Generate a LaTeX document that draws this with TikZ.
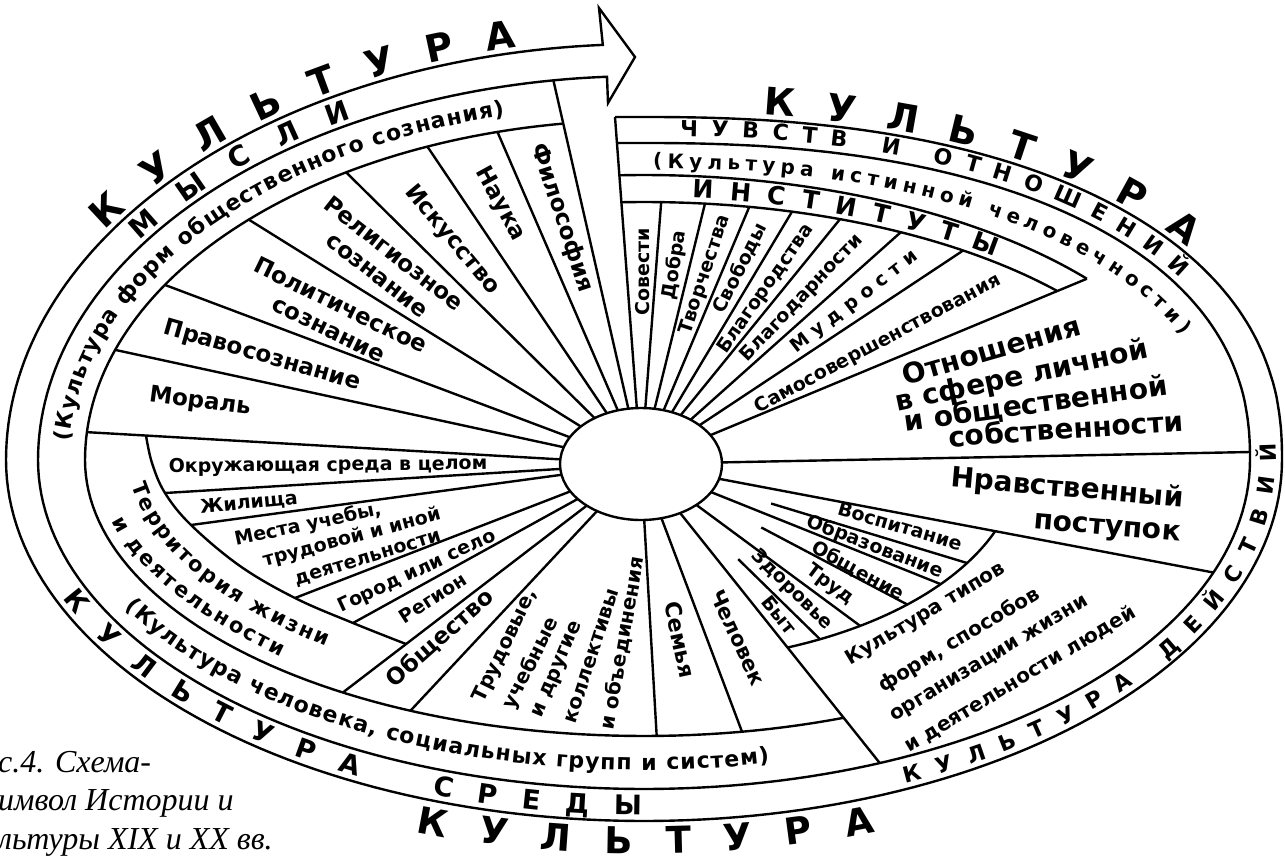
\documentclass[tikz,border=0pt]{standalone}
\usepackage{fontspec}
\setmainfont{DejaVu Sans}
\newfontfamily\capserif{Liberation Serif}
\usetikzlibrary{decorations.text,calc}
\newcommand\fsz[2]{\fontsize{#1}{#2}\selectfont\bfseries}
\begin{document}
\begin{tikzpicture}[x=1pt,y=-1pt,line width=2.4pt,line join=round,
  lab/.style={inner sep=0pt,align=center},
  curved/.style={decorate,decoration={text along path,text align=fit to path,text={#1}}}]
\fill[white] (0,0) rectangle (1285,863);
\useasboundingbox (0,0) rectangle (1285,863);

% centre of the small ellipse
\coordinate (O) at (641,464);

% ---------- outer ends of the radial lines ----------
% forms of social consciousness (upper left)
\coordinate (phr) at ({644+606*cos(98.6)},{460-384*sin(98.6)});
\coordinate (ul1) at ({644+559*cos(105.2)},{460-340*sin(105.2)});
\coordinate (ul2) at ({644+559*cos(112.8)},{460-340*sin(112.8)});
\coordinate (ul3) at ({644+559*cos(122.2)},{460-340*sin(122.2)});
\coordinate (ul4) at ({644+559*cos(135)},{460-340*sin(135)});
\coordinate (ul5) at ({644+559*cos(149)},{460-340*sin(149)});
\coordinate (ul6) at ({644+559*cos(161.1)},{460-340*sin(161.1)});
\coordinate (ul7) at ({644+559*cos(175.3)},{460-340*sin(175.3)});
% social groups (bottom)
\coordinate (lo1) at ({644+559*cos(237.4)},{460-276*sin(237.4)});
\coordinate (lo2) at ({644+559*cos(245.3)},{460-276*sin(245.3)});
\coordinate (lo3) at ({644+559*cos(271.3)},{460-276*sin(271.3)});
\coordinate (lo4) at ({644+559*cos(280.1)},{460-276*sin(280.1)});
\coordinate (dg)  at ({644+606*cos(292.9)},{460-329*sin(292.9)});
% right half
\coordinate (nb) at ({644+606*cos(340)},{460-329*sin(340)});
\coordinate (nt) at (1250,452);
\coordinate (so) at ({644+574*cos(39.5)},{460-285*sin(39.5)});
\coordinate (in1) at ({644+547*cos(88.2)},{460-258*sin(88.2)});
\coordinate (in2) at ({644+547*cos(83.6)},{460-258*sin(83.6)});
\coordinate (in3) at ({644+547*cos(78.9)},{460-258*sin(78.9)});
\coordinate (in4) at ({644+547*cos(74.3)},{460-258*sin(74.3)});
\coordinate (in5) at ({644+547*cos(69.0)},{460-258*sin(69.0)});
\coordinate (in6) at ({644+547*cos(62.0)},{460-258*sin(62.0)});
\coordinate (in7) at ({644+547*cos(54.3)},{460-258*sin(54.3)});
\coordinate (rb) at (615,117);
% territory arc
\coordinate (q0) at (146,435.5);
\coordinate (q1) at (152,463);
\coordinate (q2) at (165,493);
\coordinate (q3) at (191,525);
\coordinate (q4) at (240,566);
\coordinate (q5) at (295,598);
\coordinate (q6) at (353,623);
\coordinate (q7) at (406,644);
% ways of life (lower right)
\coordinate (v1) at ({644+375*cos(329.5)},{460-203*sin(329.5)});
\coordinate (v2) at ({644+375*cos(322.3)},{460-203*sin(322.3)});
\coordinate (v3) at ({644+375*cos(314.6)},{460-203*sin(314.6)});
\coordinate (v4) at ({644+375*cos(305.2)},{460-203*sin(305.2)});
\coordinate (v5) at ({644+375*cos(298)},{460-203*sin(298)});

% ---------- radial lines ----------
\foreach \p in {phr,ul1,ul2,ul3,ul4,ul5,ul6,ul7,lo1,lo2,lo3,lo4,dg,nb,nt,so,
                in1,in2,in3,in4,in5,in6,in7,rb,q2,q3,q5,q6,v2,v4}
  \draw (\p) -- (O);
\foreach \p in {v1,v3,v5}
  \draw ($(O)!136pt!(\p)$) -- (\p);

% ---------- the spiral band ending in the arrow ----------
\draw[line join=miter,miter limit=6] (rb)
  -- plot[domain=89.8:0.2,samples=80,variable=\t] ({644+638*pow(cos(\t),0.87)},{460-343*pow(sin(\t),0.87)})
  -- plot[domain=360:180,samples=120,variable=\t] ({644+638*cos(\t)},{460-361*sin(\t)})
  -- plot[domain=180:93.7,samples=70,variable=\t] ({644+638*cos(\t)},{460-416*sin(\t)})
  -- (599,8) -- (635,57) -- (608,103)
  -- plot[domain=93.5:180,samples=70,variable=\t] ({644+606*cos(\t)},{460-384*sin(\t)})
  -- plot[domain=180:360,samples=120,variable=\t] ({644+606*cos(\t)},{460-329*sin(\t)})
  -- plot[domain=0.2:89.8,samples=80,variable=\t] ({644+606*pow(cos(\t),0.87)},{460-317*pow(sin(\t),0.87)})
  -- (617,143);

% institutes band
\draw plot[domain=92.47:39.5,samples=60,variable=\t] ({644+574*cos(\t)},{460-285*sin(\t)});
\draw plot[domain=92.37:41,samples=60,variable=\t] ({644+547*cos(\t)},{460-258*sin(\t)});
% inner arc of the left half
\draw plot[domain=98.4:180,samples=70,variable=\t] ({644+559*cos(\t)},{460-340*sin(\t)})
  -- plot[domain=180:291,samples=70,variable=\t] ({644+559*cos(\t)},{460-276*sin(\t)});
% territory arc
\draw plot[smooth,tension=0.6] coordinates {(q0) (q1) (q2) (q3) (q4) (q5) (q6) (q7)};
% arc of the ways of life
\draw plot[domain=292.5:339.6,samples=40,variable=\t] ({644+375*cos(\t)},{460-203*sin(\t)});

% centre
\draw[fill=white] (O) ellipse [x radius=81pt, y radius=56pt];

% ---------- texts along the bands ----------
\path[curved={|\fsz{38}{38}|КУЛЬТУРА}]
  plot[domain=147:101.4,samples=80,variable=\t] ({644+643*cos(\t)},{460-421*sin(\t)});
\path[curved={|\fsz{28}{28}|МЫСЛИ}]
  plot[domain=145.6:118.6,samples=60,variable=\t] ({644+611*cos(\t)},{460-389*sin(\t)});
\path[curved={|\fsz{22}{22}|(Культура форм общественного сознания)}]
  plot[domain=177:104,samples=100,variable=\t] ({644+575*cos(\t)},{460-355*sin(\t)});

\path[curved={|\fsz{38}{38}|КУЛЬТУРА}]
  plot[domain=81.8:34.5,samples=80,variable=\t] ({644+643*pow(cos(\t),0.87)},{460-348*pow(sin(\t),0.87)});
\path[curved={|\fsz{22}{22}|ЧУВСТВ И ОТНОШЕНИЙ}]
  plot[domain=87.8:31,samples=90,variable=\t] ({644+613*pow(cos(\t),0.87)},{460-324*pow(sin(\t),0.87)});
\path[curved={|\fsz{20}{20}|(Культура истинной человечности)}]
  plot[domain=89.4:23,samples=100,variable=\t] ({644+580*pow(cos(\t),0.909)},{460-292*pow(sin(\t),0.909)});
\path[curved={|\fsz{25}{25}|ИНСТИТУТЫ}]
  plot[domain=85:50.5,samples=60,variable=\t] ({644+552*cos(\t)},{460-263*sin(\t)});

\path[curved={|\fsz{22}{22}|(Культура человека, социальных групп и систем)}]
  plot[domain=208.4:282.3,samples=110,variable=\t] ({644+590*cos(\t)},{460-310*sin(\t)});
\path[curved={|\fsz{27}{27}|КУЛЬТУРА}]
  plot[domain=203:243,samples=60,variable=\t] ({644+632*cos(\t)},{460-355*sin(\t)});
\path[curved={|\fsz{27}{27}|СРЕДЫ}]
  plot[domain=250.4:269.8,samples=40,variable=\t] ({644+632*cos(\t)},{460-355*sin(\t)});
\path[curved={|\fsz{22}{22}|КУЛЬТУРА ДЕЙСТВИЙ}]
  plot[domain=294.4:362.8,samples=100,variable=\t] ({644+632*cos(\t)},{460-355*sin(\t)});
\path[curved={|\fsz{37}{37}|КУЛЬТУРА}]
  plot[domain=250.8:289.4,samples=60,variable=\t] ({644+696*cos(\t)},{460-394*sin(\t)});

% territory label, two curved lines (quadratic Bezier baselines)
\path[curved={|\fsz{21}{21}|Территория жизни}]
  plot[domain=0:1,samples=60,variable=\s]
  ({(1-\s)*(1-\s)*132+2*(1-\s)*\s*162.4+\s*\s*326.5},{(1-\s)*(1-\s)*485+2*(1-\s)*\s*581.3+\s*\s*646.6});
\path[curved={|\fsz{21}{21}|и деятельности}]
  plot[domain=0:1,samples=60,variable=\s]
  ({(1-\s)*(1-\s)*112+2*(1-\s)*\s*148.8+\s*\s*281},{(1-\s)*(1-\s)*521+2*(1-\s)*\s*593.8+\s*\s*657});

% ---------- sector labels ----------
\begin{scope}[every node/.style={lab,font=\fsz{23}{27}}]
\node[rotate=-71.8] (t1) at (562,218) {Философия};
\node[rotate=-61.3] (t2) at (500,204) {Наука};
\node[rotate=-50.2] (t3) at (452,240) {Искусство};
\node[rotate=-38]   (t4) at (386,264) {Религиозное\\сознание};
\node[rotate=-26]   (t5) at (335,317) {Политическое\\сознание};
\node[rotate=-16]   (t6) at (262,356) {Правосознание};
\node[rotate=-7.6]  (t7) at (200,402) {Мораль};
\end{scope}

\begin{scope}[every node/.style={lab,font=\fsz{19}{22}}]
\node[rotate=90]   (i1) at (643,272) {Совести};
\node[rotate=80.9] (i2) at (675,265) {Добра};
\node[rotate=71.7] (i3) at (705,275) {Творчества};
\node[rotate=63.2] (i4) at (740,268) {Свободы};
\node[rotate=55]   (i5) at (766,289) {Благородства};
\node[rotate=46.3] (i6) at (802,298) {Благодарности};
\node[rotate=37.7] (i7) at (855,302) {М у д р о с т и};
\node[rotate=28]   (i8) at (878,344) {Самосовершенствования};
\end{scope}

\begin{scope}[every node/.style={lab,font=\fsz{28}{32}}]
\node[rotate=16] (r1) at (991,350) {Отношения};
\node[rotate=12] (r2) at (1022,377) {в сфере личной};
\node[rotate=8]  (r3) at (1036,404) {и общественной};
\node[rotate=4]  (r4) at (1066,428) {собственности};
\node[rotate=-5] (r5) at (1067,489) {Нравственный};
\node[rotate=-5] (r6) at (1107,530) {поступок};
\end{scope}

\begin{scope}[every node/.style={lab,font=\fsz{19}{22}}]
\node[rotate=-16.4] (w1) at (900,526) {Воспитание};
\node[rotate=-21]   (w2) at (875,547) {Образование};
\node[rotate=-28.7] (w3) at (858,571) {Общение};
\node[rotate=-36.7] (w4) at (830,585) {Труд};
\node[rotate=-44.5] (w5) at (792,590) {Здоровье};
\node[rotate=-51.4] (w6) at (779,615) {Быт};
\end{scope}

\begin{scope}[every node/.style={lab,font=\fsz{20}{24},rotate=31}]
\node (k1) at (926,614) {Культура типов};
\node (k2) at (959,640) {форм, способов};
\node (k3) at (990,660) {организации жизни};
\node (k4) at (1020,679) {и деятельности людей};
\end{scope}

\node[lab,font=\fsz{21}{24},rotate=-65] (m1) at (738,638) {Человек};
\node[lab,font=\fsz{22}{24},rotate=-78] (m2) at (680,640) {Семья};
\begin{scope}[every node/.style={lab,font=\fsz{20}{24},anchor=west}]
\node[rotate=64] (g1) at (478,702) {Трудовые,};
\node[rotate=63] (g2) at (508,709) {учебные};
\node[rotate=67] (g3) at (538,718) {и другие};
\node[rotate=72] (g4) at (570,724) {коллективы};
\node[rotate=80] (g5) at (607,731) {и объединения};
\end{scope}
\node[lab,font=\fsz{23}{26},rotate=41.6] (s1) at (440,638) {Общество};
\begin{scope}[every node/.style={lab,font=\fsz{19}{22}}]
\node[rotate=33] (s2) at (433,598) {Регион};
\node[rotate=25] (s3) at (417,572) {Город или село};
\node[rotate=12] (s4) at (308,525) {Места учебы,};
\node[rotate=15] (s5) at (352,538) {трудовой и иной};
\node[rotate=17] (s6) at (368,559) {деятельности};
\node[rotate=5.6] (s7) at (249,503) {Жилища};
\node[rotate=0.5] (s8) at (328,466) {Окружающая среда в целом};
\end{scope}

% ---------- caption ----------
\begin{scope}[every node/.style={anchor=base west,inner sep=0pt,font=\capserif\itshape\fontsize{32}{32}\selectfont}]
\node (c1) at (-3,772) {с.4. Схема-};
\node (c2) at (-3,810) {имвол Истории и};
\node (c3) at (-3,849) {льтуры XIX и XX вв.};
\end{scope}
\end{tikzpicture}
\end{document}
